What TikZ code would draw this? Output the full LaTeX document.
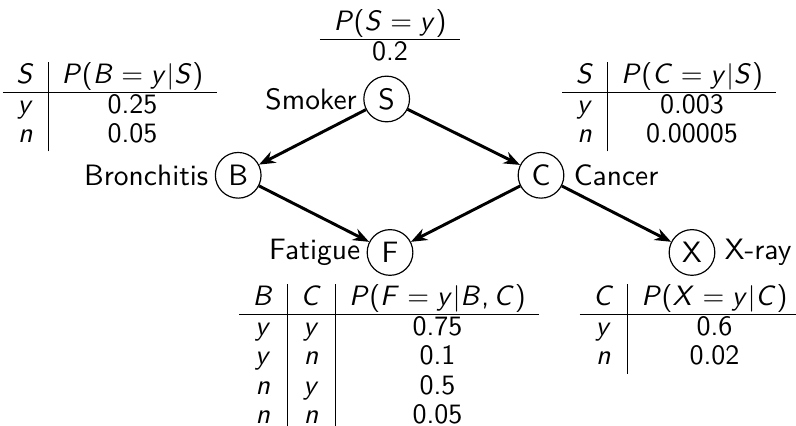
\documentclass[tikz,border=0pt]{standalone}
\usepackage{tikz}
\usetikzlibrary{arrows.meta}
\renewcommand{\familydefault}{\sfdefault}
% sans serif math letters, scalable
\DeclareFontFamily{OT1}{sfmath}{}
\DeclareFontShape{OT1}{sfmath}{m}{n}{<->cmss10}{}
\DeclareFontShape{OT1}{sfmath}{m}{sl}{<->cmssi10}{}
\SetSymbolFont{operators}{normal}{OT1}{sfmath}{m}{n}
\SetSymbolFont{letters}{normal}{OT1}{sfmath}{m}{sl}
\DeclareMathSymbol{,}{\mathpunct}{operators}{"2C}
\setlength{\tabcolsep}{4.6pt}
\renewcommand{\arraystretch}{0.9}

\begin{document}
\begin{tikzpicture}[
    var/.style={circle, draw, minimum size=15.5pt, inner sep=1pt},
    edge/.style={-{Stealth[length=5.5pt,width=4.2pt]}, line width=1pt},
    cpt/.style={anchor=base, inner sep=0pt, font=\fontsize{9.5}{11}\selectfont}
]
    \useasboundingbox (0,0) rectangle (9.49,5.07);

    \node[var] (S) at (4.61,3.89) {S};
    \node[var] (B) at (2.84,2.98) {B};
    \node[var] (C) at (6.45,2.98) {C};
    \node[var] (F) at (4.65,2.06) {F};
    \node[var] (X) at (8.25,2.06) {X};

    \node[anchor=east, inner sep=2pt] (Slabel) at (S.west) {Smoker};
    \node[anchor=east, inner sep=2pt] (Blabel) at (B.west) {Bronchitis};
    \node[anchor=west, inner sep=3pt] (Clabel) at (C.east) {Cancer};
    \node[anchor=east, inner sep=2pt] (Flabel) at (F.west) {Fatigue};
    \node[anchor=west, inner sep=3pt] (Xlabel) at (X.east) {X-ray};

    \draw[edge] (S) -- (B);
    \draw[edge] (S) -- (C);
    \draw[edge] (B) -- (F);
    \draw[edge] (C) -- (F);
    \draw[edge] (C) -- (X);

    % conditional probability tables
    \node[cpt] (Stable) at (4.65,4.71) {\begin{tabular}[t]{c}
        $P(S=y)$ \\ \hline
        0.2
    \end{tabular}};
    \node[cpt] (Btable) at (1.31,4.08) {\begin{tabular}[t]{c|c}
        $S$ & $P(B=y|S)$ \\ \hline
        $y$ & 0.25 \\
        $n$ & 0.05
    \end{tabular}};
    \node[cpt] (Ctable) at (7.98,4.08) {\begin{tabular}[t]{c|c}
        $S$ & $P(C=y|S)$ \\ \hline
        $y$ & 0.003 \\
        $n$ & 0.00005
    \end{tabular}};
    \node[cpt] (Ftable) at (4.64,1.43) {\begin{tabular}[t]{c|c|c}
        $B$ & $C$ & $P(F=y|B,C)$ \\ \hline
        $y$ & $y$ & 0.75 \\
        $y$ & $n$ & 0.1 \\
        $n$ & $y$ & 0.5 \\
        $n$ & $n$ & 0.05
    \end{tabular}};
    \node[cpt] (Xtable) at (8.23,1.43) {\begin{tabular}[t]{c|c}
        $C$ & $P(X=y|C)$ \\ \hline
        $y$ & 0.6 \\
        $n$ & 0.02
    \end{tabular}};
\end{tikzpicture}
\end{document}
